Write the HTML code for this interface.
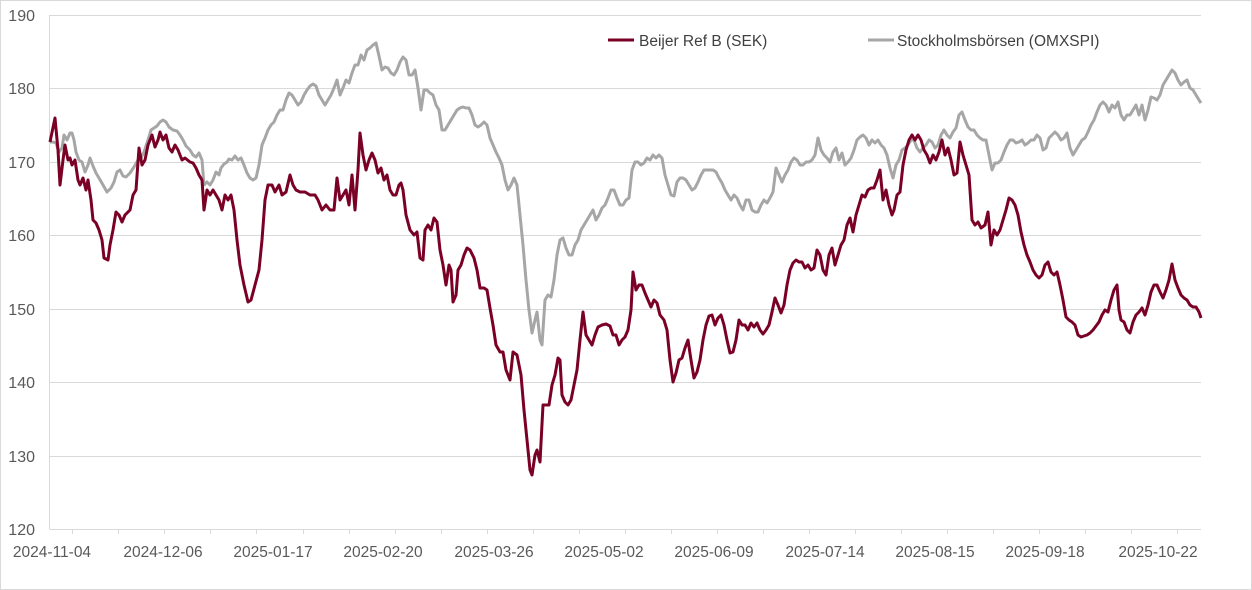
<!DOCTYPE html>
<html><head><meta charset="utf-8"><style>
body{margin:0;background:#fff}
svg{display:block;font-family:"Liberation Sans",sans-serif}
</style></head><body>
<svg width="1252" height="590" viewBox="0 0 1252 590">
<rect x="0.5" y="0.5" width="1251" height="589" fill="#fff" stroke="#d9d9d9"/>
<g stroke="#d9d9d9" stroke-width="1">
<line x1="49.5" y1="15.5" x2="1201" y2="15.5"/>
<line x1="49.5" y1="88.5" x2="1201" y2="88.5"/>
<line x1="49.5" y1="162.5" x2="1201" y2="162.5"/>
<line x1="49.5" y1="235.5" x2="1201" y2="235.5"/>
<line x1="49.5" y1="309.5" x2="1201" y2="309.5"/>
<line x1="49.5" y1="382.5" x2="1201" y2="382.5"/>
<line x1="49.5" y1="456.5" x2="1201" y2="456.5"/>
<line x1="49.5" y1="529.5" x2="1201" y2="529.5"/>
<line x1="49.5" y1="15" x2="49.5" y2="529"/>
<line x1="72.5" y1="529" x2="72.5" y2="534"/><line x1="118.5" y1="529" x2="118.5" y2="534"/><line x1="164.5" y1="529" x2="164.5" y2="534"/><line x1="210.5" y1="529" x2="210.5" y2="534"/><line x1="256.5" y1="529" x2="256.5" y2="534"/><line x1="303.5" y1="529" x2="303.5" y2="534"/><line x1="349.5" y1="529" x2="349.5" y2="534"/><line x1="395.5" y1="529" x2="395.5" y2="534"/><line x1="441.5" y1="529" x2="441.5" y2="534"/><line x1="487.5" y1="529" x2="487.5" y2="534"/><line x1="533.5" y1="529" x2="533.5" y2="534"/><line x1="579.5" y1="529" x2="579.5" y2="534"/><line x1="625.5" y1="529" x2="625.5" y2="534"/><line x1="671.5" y1="529" x2="671.5" y2="534"/><line x1="717.5" y1="529" x2="717.5" y2="534"/><line x1="763.5" y1="529" x2="763.5" y2="534"/><line x1="809.5" y1="529" x2="809.5" y2="534"/><line x1="855.5" y1="529" x2="855.5" y2="534"/><line x1="901.5" y1="529" x2="901.5" y2="534"/><line x1="947.5" y1="529" x2="947.5" y2="534"/><line x1="993.5" y1="529" x2="993.5" y2="534"/><line x1="1039.5" y1="529" x2="1039.5" y2="534"/><line x1="1085.5" y1="529" x2="1085.5" y2="534"/><line x1="1131.5" y1="529" x2="1131.5" y2="534"/><line x1="1177.5" y1="529" x2="1177.5" y2="534"/>
</g>
<g fill="#595959" font-size="16" text-anchor="end">
<text x="35" y="21">190</text><text x="35" y="94">180</text><text x="35" y="168">170</text><text x="35" y="241">160</text><text x="35" y="315">150</text><text x="35" y="388">140</text><text x="35" y="462">130</text><text x="35" y="535">120</text>
</g>
<g fill="#595959" font-size="15.5" text-anchor="middle">
<text x="52" y="557">2024-11-04</text><text x="163" y="557">2024-12-06</text><text x="273" y="557">2025-01-17</text><text x="383" y="557">2025-02-20</text><text x="494" y="557">2025-03-26</text><text x="604" y="557">2025-05-02</text><text x="714" y="557">2025-06-09</text><text x="825" y="557">2025-07-14</text><text x="935" y="557">2025-08-15</text><text x="1045" y="557">2025-09-18</text><text x="1158" y="557">2025-10-22</text>
</g>
<polyline fill="none" stroke="#a6a6a6" stroke-width="3" stroke-linejoin="round" points="50,142 53,142 56,143 59,152 62,148 64,135 67,140 70,133 72,133 74,140 76,152 79,160 82,162 85,172 88,165 90,158 93,166 96,173 99,178 103,185 107,192 111,188 114,182 117,172 120,170 123,176 126,177 130,173 134,167 138,160 141,158 144,152 148,140 151,130 154,128 157,126 160,122 163,120 166,122 169,127 173,130 177,131 180,135 183,140 186,146 190,150 193,155 196,157 199,153 202,160 204,185 207,182 210,185 213,180 216,172 219,175 221,168 224,164 227,162 229,159 232,160 235,156 238,160 241,158 244,165 247,173 250,178 253,180 256,178 259,165 262,145 265,138 268,130 271,125 274,122 277,115 280,110 283,110 286,100 289,93 292,95 295,100 298,105 301,102 304,95 307,90 310,86 313,84 316,86 319,95 322,100 325,105 328,100 331,95 334,88 337,80 340,95 343,88 346,80 349,83 352,73 355,65 358,65 361,55 364,60 367,50 370,48 373,45 376,43 379,56 382,70 385,67 388,68 391,73 394,75 397,70 400,62 403,57 406,60 409,75 412,75 415,70 418,88 421,110 424,90 427,90 430,93 433,95 436,105 439,110 442,130 445,130 448,125 451,120 454,115 457,110 460,108 463,107 466,108 469,108 472,115 475,125 478,127 481,125 484,122 487,125 490,138 493,145 496,152 499,158 502,165 505,180 508,190 511,185 514,178 517,185 520,215 523,245 526,280 529,310 532,333 535,320 537,312 540,340 542,345 545,300 548,295 551,297 554,280 557,255 560,240 563,238 566,248 569,255 572,255 575,245 578,240 581,230 584,225 587,220 590,215 593,210 596,220 599,215 602,208 605,205 608,198 611,190 614,190 617,198 620,205 623,205 626,200 629,198 632,170 635,162 638,162 641,165 644,163 647,158 650,160 653,155 656,158 659,155 662,158 665,175 668,185 671,195 674,196 677,182 680,178 683,178 686,180 689,185 692,190 695,188 698,182 701,175 704,170 707,170 710,170 713,170 716,172 719,178 722,183 725,190 728,195 731,200 734,195 737,198 740,205 743,210 746,200 749,200 752,210 755,212 758,212 761,205 764,200 767,203 770,198 773,192 776,168 779,175 782,182 785,175 788,170 791,162 794,158 797,160 800,165 803,165 806,162 809,162 812,160 815,155 818,138 821,150 824,155 827,158 830,162 833,152 836,148 839,160 842,153 845,165 848,162 851,158 854,150 857,140 860,137 863,135 866,138 869,145 872,140 875,143 878,140 881,145 884,148 887,155 890,168 893,178 896,165 899,160 902,150 905,148 908,145 911,140 914,140 917,148 920,152 923,148 926,145 929,140 932,142 935,148 938,145 941,135 944,130 947,135 950,138 953,132 956,128 959,115 962,112 965,120 968,127 971,130 974,130 977,135 980,138 983,140 986,140 989,155 992,170 995,163 998,163 1001,160 1004,152 1007,145 1010,140 1013,140 1016,143 1019,142 1022,140 1025,145 1028,143 1031,140 1034,140 1037,135 1040,138 1043,150 1046,148 1049,138 1052,135 1055,132 1058,135 1061,140 1064,138 1067,133 1070,148 1073,155 1076,150 1079,145 1082,140 1085,138 1088,132 1091,125 1094,120 1097,112 1100,105 1103,102 1106,105 1109,112 1112,105 1115,108 1118,102 1121,115 1124,120 1127,115 1130,115 1133,110 1136,105 1139,115 1142,105 1145,120 1148,110 1151,97 1154,98 1157,100 1160,95 1163,85 1166,80 1169,75 1172,70 1175,73 1178,80 1181,85 1184,82 1187,80 1190,88 1193,90 1196,95 1199,100 1201,103"/>
<polyline fill="none" stroke="#7a0026" stroke-width="3" stroke-linejoin="round" points="50,142 55,118 58,150 60,185 63,160 65,145 68,160 70,158 72,165 75,160 78,180 80,185 83,178 86,190 88,180 91,200 93,220 96,223 99,230 102,240 104,258 108,260 110,245 113,230 116,212 119,215 122,222 125,215 130,210 133,195 136,190 139,148 142,165 145,160 148,145 152,135 155,147 158,140 160,132 163,140 166,135 169,148 172,152 175,145 178,150 182,160 185,158 190,162 193,163 196,168 199,175 202,180 204,210 207,190 210,195 213,190 216,195 219,200 222,210 225,195 228,200 231,195 234,210 237,240 240,265 244,285 248,302 251,300 255,285 259,270 262,240 265,200 268,185 272,185 275,192 279,185 282,195 286,192 290,175 293,185 296,190 300,192 305,192 310,195 315,195 318,200 322,210 326,205 330,210 334,210 337,178 340,200 343,195 346,190 349,205 352,175 355,210 358,170 360,133 363,155 366,170 369,160 372,153 375,160 378,173 381,168 384,180 387,175 390,190 393,195 396,195 399,185 401,183 403,190 406,215 410,230 414,235 417,232 420,258 423,260 425,230 428,225 431,230 434,218 437,222 440,250 443,265 446,285 449,265 451,270 453,302 456,295 458,270 461,265 464,255 467,248 470,250 474,258 477,270 480,288 484,288 487,290 490,308 493,325 496,345 500,352 503,352 506,370 510,380 513,352 517,355 521,375 524,410 527,440 530,470 532,475 535,455 537,450 540,462 543,405 546,405 549,405 552,385 555,375 558,358 560,360 562,395 565,402 568,405 571,400 574,385 577,370 580,340 583,312 586,335 589,340 592,345 595,335 598,327 602,325 606,324 610,326 613,335 616,335 619,345 622,340 625,337 628,330 631,310 633,272 636,290 639,285 642,285 645,293 648,300 651,307 654,300 657,303 660,315 664,320 667,330 670,360 673,382 676,373 679,360 682,358 685,348 688,340 691,360 694,378 697,372 700,360 703,340 706,325 709,316 712,315 715,325 718,318 721,315 724,325 727,340 730,353 733,352 736,340 739,320 742,325 745,325 748,330 751,323 754,327 757,323 760,330 763,334 766,330 769,325 772,312 775,298 778,305 781,313 784,305 787,285 790,270 793,263 796,260 799,262 802,262 805,268 808,265 811,270 814,268 817,250 820,255 823,270 826,275 829,255 832,248 835,265 838,255 841,245 844,240 847,225 850,218 853,232 856,215 859,205 862,195 865,197 868,190 871,188 874,188 877,180 880,170 883,200 886,190 889,205 892,215 894,210 897,195 900,192 903,165 906,150 909,140 912,135 915,140 918,135 921,140 924,150 927,155 930,163 933,155 936,160 939,152 942,140 945,155 948,148 951,160 954,175 957,173 960,142 963,155 966,165 969,175 972,220 975,225 978,222 981,228 985,225 988,212 991,245 994,230 997,235 1000,230 1003,220 1006,210 1009,198 1012,200 1015,205 1018,215 1021,232 1024,245 1027,255 1030,262 1033,270 1036,275 1039,278 1042,275 1045,265 1048,262 1051,272 1054,275 1057,272 1060,285 1063,300 1066,317 1069,320 1072,322 1075,325 1078,335 1081,337 1084,336 1087,335 1090,333 1093,330 1096,326 1099,322 1102,315 1105,310 1108,312 1111,300 1114,290 1117,285 1119,310 1121,320 1124,322 1127,330 1130,333 1133,322 1136,315 1139,312 1142,308 1145,315 1148,305 1151,292 1154,285 1157,285 1160,292 1163,298 1166,290 1169,280 1172,264 1175,280 1178,288 1181,295 1184,298 1187,300 1190,305 1193,307 1196,307 1199,312 1201,318"/>
<line x1="608" y1="40" x2="634" y2="40" stroke="#7a0026" stroke-width="3"/>
<text x="639" y="46" font-size="15.5" fill="#404040">Beijer Ref B (SEK)</text>
<line x1="868" y1="40" x2="894" y2="40" stroke="#a6a6a6" stroke-width="3"/>
<text x="897" y="46" font-size="15.5" fill="#404040">Stockholmsbörsen (OMXSPI)</text>
</svg>
</body></html>
